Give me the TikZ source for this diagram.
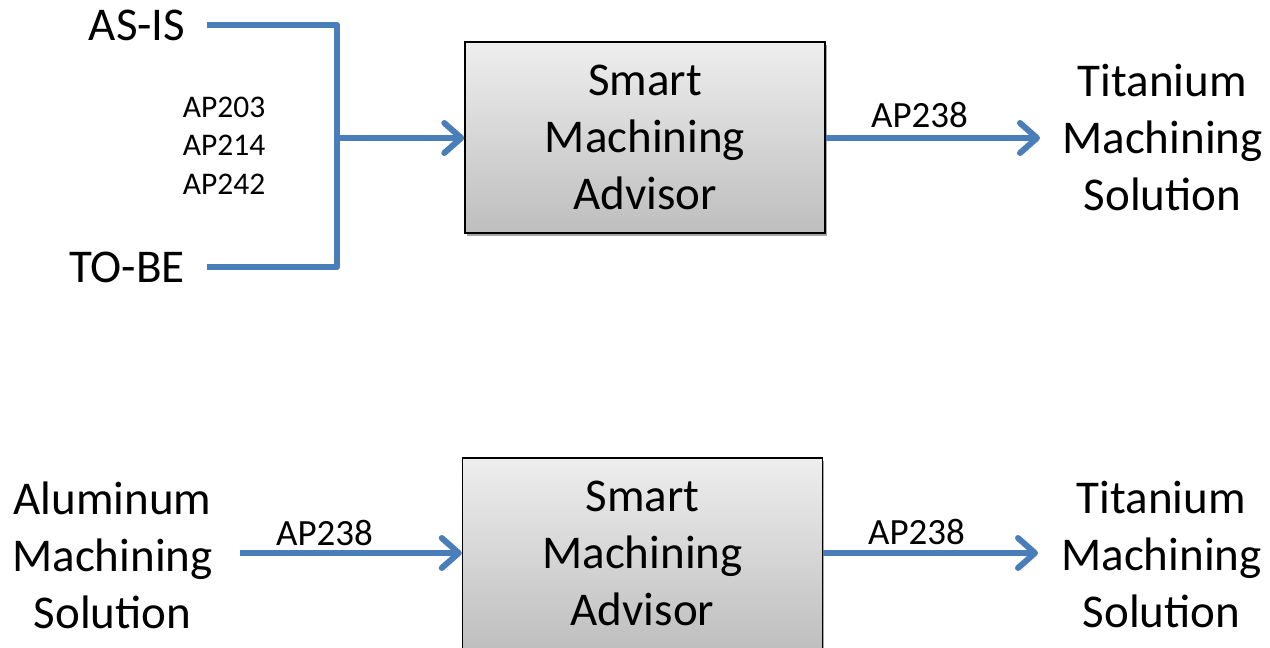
\documentclass[tikz,border=0pt]{standalone}
\usepackage{fontspec}
\setmainfont{Carlito}
\usetikzlibrary{arrows.meta,shadows}
\definecolor{linkblue}{RGB}{74,126,187}
\definecolor{boxtop}{RGB}{238,238,238}
\definecolor{boxbot}{RGB}{190,190,190}
\tikzset{
  bigtext/.style={inner sep=0pt, align=center, font=\fontsize{47}{57}\selectfont},
  midtext/.style={inner sep=0pt, align=center, font=\fontsize{37}{44}\selectfont},
  smalltext/.style={inner sep=0pt, align=center, font=\fontsize{31.5}{38.5}\selectfont},
  advisor/.style={draw=black, line width=1.5pt, top color=boxtop, bottom color=boxbot,
    minimum width=360pt, minimum height=191pt, inner sep=0pt, align=center,
    font=\fontsize{47}{57}\selectfont,
    drop shadow={shadow xshift=1.5pt, shadow yshift=-3pt, opacity=0.35, fill=black}},
  conn/.style={draw=linkblue, line width=6pt, line join=round},
  arr/.style={conn, -{Straight Barb[length=17pt, width=30pt, line cap=round, line join=round]}},
}
\begin{document}
\begin{tikzpicture}[x=1pt, y=-1pt]
\useasboundingbox (0,0) rectangle (1270,648);
\clip (0,0) rectangle (1270,648);
% ---- top row ----
\node[bigtext] (asis) at (137,25) {AS-IS};
\node[bigtext] (tobe) at (127,267) {TO-BE};
\node[smalltext] (aps) at (224,145.5) {AP203\\AP214\\AP242};
\node[advisor] (sma1) at (645,137.5) {Smart\\Machining\\Advisor};
\node[bigtext] (ti1) at (1162.5,137.5) {Titanium\\Machining\\Solution};
\node[midtext] (ap1) at (919.5,114.5) {AP238};
\coordinate (c1) at (337,25);
\coordinate (c2) at (337,267);
\coordinate (c3) at (337,138);
\coordinate (e1) at (1040,138);
\draw[conn] ([xshift=22pt]asis.east) -- (c1) -- (c2) -- ([xshift=22pt]tobe.east |- c2);
\draw[arr] (c3) -- (sma1.west |- c3);
\draw[arr] (sma1.east |- e1) -- (e1);
% ---- bottom row ----
\node[bigtext] (al) at (112.5,555) {Aluminum\\Machining\\Solution};
\node[advisor, minimum height=194pt, anchor=north] (sma2) at (642.5,457) {};
\node[bigtext] (sma2t) at (642.5,553.5) {Smart\\Machining\\Advisor};
\node[bigtext] (ti2) at (1161.5,554) {Titanium\\Machining\\Solution};
\node[midtext] (ap2) at (324.5,532.5) {AP238};
\node[midtext] (ap3) at (916.5,532) {AP238};
\coordinate (s2) at (240,553);
\coordinate (e2) at (1038,553);
\draw[arr] (s2) -- (sma2.west |- s2);
\draw[arr] (sma2.east |- e2) -- (e2);
\end{tikzpicture}
\end{document}
